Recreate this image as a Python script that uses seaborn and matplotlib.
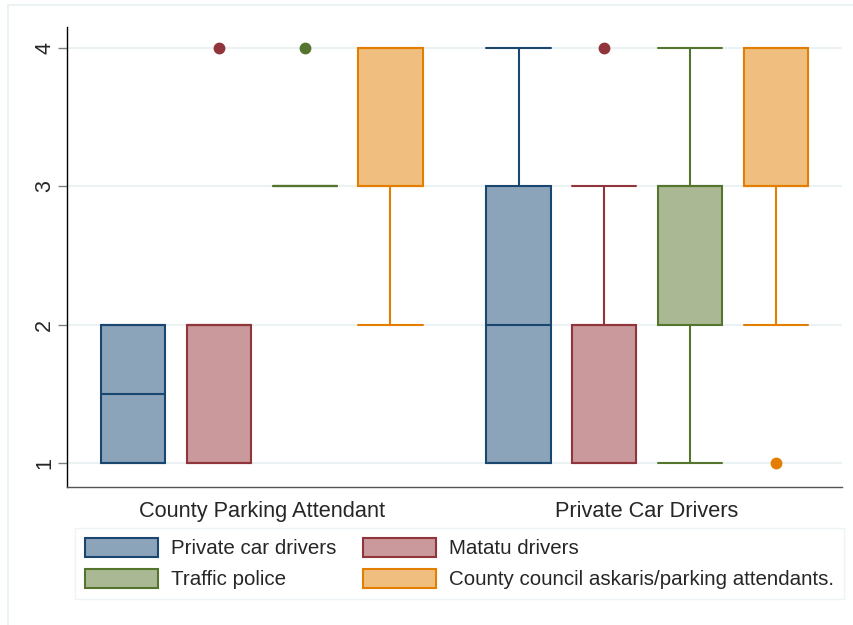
import matplotlib
matplotlib.use("Agg")
import matplotlib.pyplot as plt
from matplotlib.patches import Patch, Rectangle
import pandas as pd
import seaborn as sns

groups = ["County Parking Attendant", "Private Car Drivers"]
series = ["Private car drivers", "Matatu drivers", "Traffic police",
          "County council askaris/parking attendants."]

# Ratings (1-4) given by each respondent group, split by who is rated
private_car_cpa = [1, 1, 2, 2]
matatu_cpa = [1, 1, 2, 2, 4]
police_cpa = [3, 3, 3, 3, 4]
council_cpa = [2, 3, 3, 4, 4]

private_car_pcd = [1, 1, 1, 2, 2, 3, 3, 3, 4]
matatu_pcd = [1, 1, 1, 2, 2, 2, 2, 3, 4]
police_pcd = [1, 2, 2, 3, 3, 3, 4]
council_pcd = [1, 2, 3, 3, 3, 4, 4, 4, 4]

fills = ["#8CA4BA", "#C9999C", "#AAB994", "#F0BF7F"]
edges = ["#1A476F", "#90353B", "#55752F", "#E37E00"]
fill_map = dict(zip(series, fills))

rows = []
for grp, vals in zip(groups, [
        [private_car_cpa, matatu_cpa, police_cpa, council_cpa],
        [private_car_pcd, matatu_pcd, police_pcd, council_pcd]]):
    for s, v in zip(series, vals):
        rows += [{"group": grp, "series": s, "value": x} for x in v]
df = pd.DataFrame(rows)

sns.set_style("white")
plt.rcParams["font.family"] = ["Liberation Sans", "DejaVu Sans"]

fig = plt.figure(figsize=(8.54, 6.25), dpi=100)
ax = fig.add_axes([67 / 854, 1 - 487 / 625, (842 - 67) / 854, (487 - 27) / 625])

box_w = 0.89 / 4 * 0.75
for s, ec in zip(series, edges):
    sns.boxplot(
        data=df[df["series"] == s], x="group", y="value",
        hue="series", hue_order=series, order=groups,
        palette=fill_map, linecolor=ec, linewidth=1.5,
        width=0.89, gap=0.25, dodge=True, saturation=1,
        capwidths=box_w, legend=False,
        flierprops=dict(marker="o", markerfacecolor=ec, markeredgecolor=ec,
                        markersize=7.5),
        ax=ax,
    )

ax.set_xlim(-0.506, 1.506)
ax.set_ylim(0.826, 4.152)
ax.set_yticks([1, 2, 3, 4])
ax.set_yticklabels(["1", "2", "3", "4"], rotation=90, va="center")
ax.set_xlabel("")
ax.set_ylabel("")
ax.yaxis.grid(True, color="#EAF2F3", linewidth=1.5)
ax.set_axisbelow(True)
ax.tick_params(axis="y", length=6.5, width=1, color="#808080", pad=2,
               labelsize=15.5, left=True)
ax.tick_params(axis="x", length=0, pad=10, labelsize=15.7)
for side in ["top", "right"]:
    ax.spines[side].set_visible(False)
ax.spines["left"].set_color("black")
ax.spines["left"].set_linewidth(1)
ax.spines["bottom"].set_color("#555555")
ax.spines["bottom"].set_linewidth(1)

# two-column legend filled row by row
order = [0, 2, 1, 3]
handles = [Patch(facecolor=fills[i], edgecolor=edges[i], linewidth=1.5)
           for i in order]
labels = [series[i] for i in order]
leg = fig.legend(
    handles, labels, ncol=2, loc="upper left",
    bbox_to_anchor=(75 / 854, 1 - 528 / 625),
    fontsize=14.8, frameon=True, fancybox=False,
    edgecolor="#EAF2F3", handlelength=3.55, handleheight=1.05,
    handletextpad=0.63, labelspacing=0.5, borderpad=0.48,
    columnspacing=1.3, borderaxespad=0,
)
leg.get_frame().set_linewidth(1)

fig.patches.append(Rectangle((8 / 854, -0.1), 1.2, 1 - 5 / 625 + 0.1,
                             transform=fig.transFigure, fill=False,
                             edgecolor="#EAF2F3", linewidth=1.5))

fig.savefig("out.png", dpi=100, facecolor="white")
